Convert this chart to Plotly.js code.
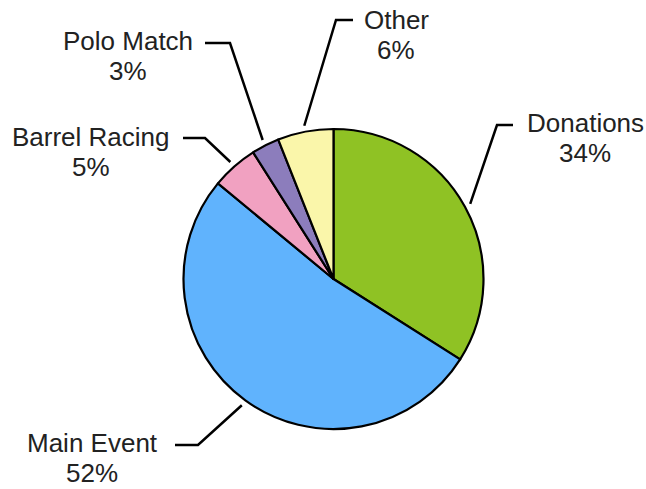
<!DOCTYPE html>
<html>
<head>
<meta charset="utf-8">
<script src="https://cdn.plot.ly/plotly-3.0.1.min.js"></script>
<style>html,body{margin:0;padding:0;background:#fff;}#chart{width:646px;height:489px;}</style>
</head>
<body>
<div id="chart"></div>
<script>
// ---- data ----
var categories = ["Donations", "Main Event", "Barrel Racing", "Polo Match", "Other"];
var values = [34, 52, 5, 3, 6];
var percentLabels = ["34%", "52%", "5%", "3%", "6%"];

// ---- styles / layout (pixels) ----
var sliceColors = ["#8fc224", "#60b3fd", "#f1a1c1", "#8c7dbc", "#faf6aa"];
var W = 646, H = 489;
var cx = 333.5, cy = 279, R = 150;
var elbowX = [497, 198, 205, 230, 336];
var elbowY = [125, 445, 138, 43, 20];
var endX = [513, 175, 183, 205, 353];
var labelX = [585, 92, 91, 128, 396];
var nameY = [123, 443, 137, 41, 20];
var lineGap = 30;
var textFont = {family: "Liberation Sans, Arial, sans-serif", size: 26, color: "#222"};

var total = values.reduce(function(a, b){ return a + b; }, 0);
var shapes = [], annotations = [];
var cum = 0;
for (var i = 0; i < values.length; i++) {
  var mid = (cum + values[i] / 2) / total * 2 * Math.PI;
  cum += values[i];
  var sx = cx + (R + 6) * Math.sin(mid);
  var sy = cy - (R + 6) * Math.cos(mid);
  shapes.push({
    type: "path", xref: "x", yref: "y",
    path: "M" + sx + "," + sy + " L" + elbowX[i] + "," + elbowY[i] + " L" + endX[i] + "," + elbowY[i],
    line: {color: "#000", width: 2.5}
  });
  annotations.push({
    xref: "x", yref: "y", x: labelX[i], y: nameY[i],
    text: categories[i], showarrow: false, xanchor: "center", yanchor: "middle",
    font: textFont
  });
  annotations.push({
    xref: "x", yref: "y", x: labelX[i], y: nameY[i] + lineGap,
    text: percentLabels[i], showarrow: false, xanchor: "center", yanchor: "middle",
    font: textFont
  });
}

var pie = {
  type: "pie",
  labels: categories,
  values: values,
  sort: false,
  direction: "clockwise",
  rotation: 0,
  textinfo: "none",
  hoverinfo: "label+percent",
  marker: {colors: sliceColors, line: {color: "#000", width: 2.2}},
  domain: {x: [(cx - R) / W, (cx + R) / W], y: [1 - (cy + R) / H, 1 - (cy - R) / H]},
  showlegend: false
};

var layout = {
  width: W, height: H,
  margin: {l: 0, r: 0, t: 0, b: 0},
  paper_bgcolor: "#fff", plot_bgcolor: "rgba(0,0,0,0)",
  showlegend: false,
  xaxis: {range: [0, W], visible: false, fixedrange: true},
  yaxis: {range: [H, 0], visible: false, fixedrange: true},
  shapes: shapes,
  annotations: annotations
};

Plotly.newPlot("chart", [pie], layout, {displayModeBar: false, staticPlot: true});
</script>
</body>
</html>
